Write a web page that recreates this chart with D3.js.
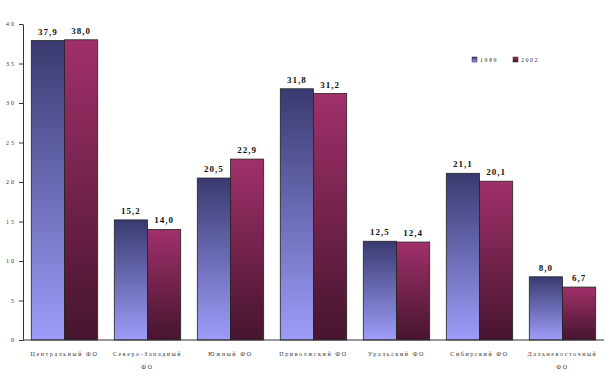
<!DOCTYPE html>
<html>
<head>
<meta charset="utf-8">
<script src="https://cdn.jsdelivr.net/npm/d3@7"></script>
<style>
  body { margin: 0; background: #fff; }
  svg text { font-family: "Liberation Serif", serif; }
</style>
</head>
<body>
<div id="chart"></div>
<script>
// district names, some wrap onto two lines
const categories = [
  ["Центральный ФО"],
  ["Северо-Западный", "ФО"],
  ["Южный ФО"],
  ["Приволжский ФО"],
  ["Уральский ФО"],
  ["Сибирский ФО"],
  ["Дальневосточный", "ФО"]
];
const seriesNames = ["1989", "2002"];
const values1989 = [37.9, 15.2, 20.5, 31.8, 12.5, 21.1, 8.0];
const values2002 = [38.0, 14.0, 22.9, 31.2, 12.4, 20.1, 6.7];
const yTicks = [0, 5, 10, 15, 20, 25, 30, 35, 40];

const width = 606;
const height = 384;
const margin = { top: 24, right: 2, bottom: 44, left: 23 };

const svg = d3.select("#chart")
  .append("svg")
  .attr("width", width)
  .attr("height", height);

const defs = svg.append("defs");
const grads = [
  { id: "g1989", top: "#3a3a70", bottom: "#9d9dfa" },
  { id: "g2002", top: "#a0306a", bottom: "#46152e" }
];
grads.forEach(g => {
  const lg = defs.append("linearGradient")
    .attr("id", g.id)
    .attr("x1", 0).attr("y1", 0).attr("x2", 0).attr("y2", 1);
  lg.append("stop").attr("offset", "0%").attr("stop-color", g.top);
  lg.append("stop").attr("offset", "100%").attr("stop-color", g.bottom);
});

const x = d3.scaleBand()
  .domain(d3.range(categories.length))
  .range([margin.left, width - margin.right])
  .paddingInner(0.2)
  .paddingOuter(0.1);

const xSub = d3.scaleBand()
  .domain(seriesNames)
  .range([0, x.bandwidth()]);

const y = d3.scaleLinear()
  .domain([0, 40])
  .range([height - margin.bottom, margin.top]);

const fmt = v => d3.format(".1f")(v).replace(".", ",");

const series = [
  { name: "1989", values: values1989, fill: "url(#g1989)" },
  { name: "2002", values: values2002, fill: "url(#g2002)" }
];

series.forEach(s => {
  const g = svg.append("g");
  g.selectAll("rect")
    .data(s.values)
    .join("rect")
    .attr("x", (d, i) => x(i) + xSub(s.name))
    .attr("y", d => y(d))
    .attr("width", xSub.bandwidth())
    .attr("height", d => y(0) - y(d))
    .attr("fill", s.fill)
    .attr("stroke", "#222")
    .attr("stroke-width", 0.8);

  g.selectAll("text")
    .data(s.values)
    .join("text")
    .attr("x", (d, i) => x(i) + xSub(s.name) + xSub.bandwidth() / 2)
    .attr("y", d => y(d) - 6)
    .attr("text-anchor", "middle")
    .attr("font-family", "Liberation Sans, sans-serif")
    .attr("font-weight", "bold")
    .attr("font-size", 9)
    .attr("letter-spacing", 1)
    .attr("fill", "#111")
    .text(d => fmt(d));
});

// y axis
const yAxis = svg.append("g")
  .attr("transform", `translate(${margin.left},0)`)
  .call(d3.axisLeft(y).tickValues(yTicks).tickSize(4).tickSizeOuter(0));
yAxis.select(".domain").attr("stroke", "#333");
yAxis.selectAll(".tick line").attr("stroke", "#333");
yAxis.selectAll(".tick text")
  .attr("font-family", "Liberation Serif, serif")
  .attr("font-size", 6)
  .attr("letter-spacing", 2)
  .attr("fill", "#333")
  .attr("x", -7);

// baseline
svg.append("line")
  .attr("x1", margin.left)
  .attr("x2", width - margin.right)
  .attr("y1", y(0))
  .attr("y2", y(0))
  .attr("stroke", "#333");

// category labels
const labels = svg.append("g");
categories.forEach((lines, i) => {
  const t = labels.append("text")
    .attr("x", x(i) + x.bandwidth() / 2)
    .attr("y", y(0) + 16)
    .attr("text-anchor", "middle")
    .attr("font-size", 6)
    .attr("letter-spacing", 1.6)
    .attr("fill", "#333");
  lines.forEach((ln, k) => {
    t.append("tspan")
      .attr("x", x(i) + x.bandwidth() / 2)
      .attr("dy", k === 0 ? 0 : 13)
      .text(ln);
  });
});

// legend
const legend = svg.append("g").attr("transform", "translate(472,57)");
series.forEach((s, i) => {
  const lg = legend.append("g").attr("transform", `translate(${i * 41},0)`);
  lg.append("rect")
    .attr("width", 5).attr("height", 5)
    .attr("fill", s.fill)
    .attr("stroke", "#222").attr("stroke-width", 0.5);
  lg.append("text")
    .attr("x", 8).attr("y", 5)
    .attr("font-size", 6)
    .attr("letter-spacing", 1.5)
    .attr("fill", "#333")
    .text(s.name);
});
</script>
</body>
</html>
